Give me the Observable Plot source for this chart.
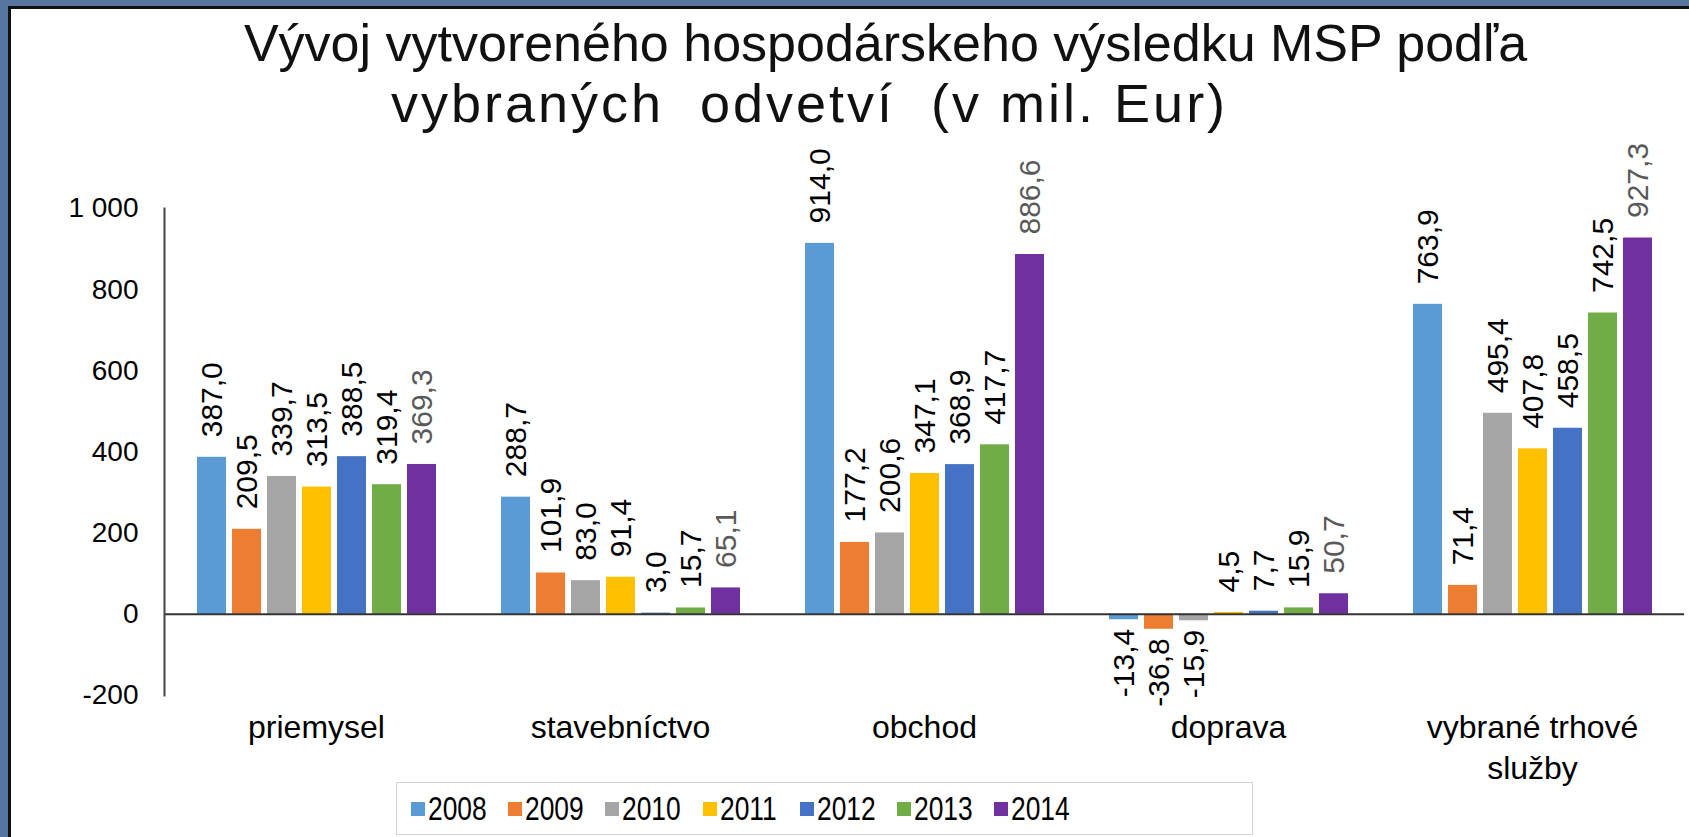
<!DOCTYPE html>
<html>
<head>
<meta charset="utf-8">
<script src="https://cdn.jsdelivr.net/npm/d3@7"></script>
<script src="https://cdn.jsdelivr.net/npm/@observablehq/plot@0.6"></script>
<style>
  html, body { margin: 0; padding: 0; }
  body { width: 1689px; height: 837px; position: relative; overflow: hidden;
         background: #57769f; font-family: "Liberation Sans", Arial, sans-serif; }
  #panel { position: absolute; left: 8px; top: 6px; width: 1681px; height: 831px;
           background: #fff; border-left: 3px solid #111; border-top: 3px solid #111; box-sizing: border-box; }
  .title { position: absolute; left: 0; width: 1689px; text-align: center;
           color: #111; white-space: pre; }
  #chart { position: absolute; left: 0; top: 120px; }
  #legend { position: absolute; left: 396px; top: 782px; width: 857px; height: 53px;
            border: 1px solid #d4d4d4; box-sizing: border-box; display: flex; align-items: center;
            padding-left: 14px; background: #fff; }
  .item { width: 97.2px; display: flex; align-items: center; flex: none; }
  .sw { width: 14px; height: 14px; margin-right: 3px; flex: none; }
  .lt { font-family: "Liberation Sans", Arial, sans-serif; display: inline-block;
        font-size: 33px; color: #000; line-height: 33px; transform: scaleX(0.8); transform-origin: left center; }
</style>
</head>
<body>
<div id="panel"></div>
<div class="title" id="t1" style="top:17px; font-size:52px; line-height:52px; transform: translateX(41px);"></div>
<div class="title" id="t2" style="top:76px; font-size:54px; line-height:54px; transform: translateX(-35px); letter-spacing: 3px;"></div>
<div id="chart"></div>
<div id="legend"></div>
<script>
const titleLines = ["Vývoj vytvoreného hospodárskeho výsledku MSP podľa", "vybraných  odvetví  (v mil. Eur)"];
const categories = ["priemysel", "stavebníctvo", "obchod", "doprava", "vybrané trhové služby"];
const categoryLabels = ["priemysel", "stavebníctvo", "obchod", "doprava", "vybrané trhové\nslužby"];
const years = ["2008", "2009", "2010", "2011", "2012", "2013", "2014"];
const colors = ["#5B9BD5", "#ED7D31", "#A5A5A5", "#FFC000", "#4472C4", "#70AD47", "#7030A0"];
const labelColors = ["#000", "#000", "#000", "#000", "#000", "#000", "#595959"];
const v2008 = [387.0, 288.7, 914.0, -13.4, 763.9];
const v2009 = [209.5, 101.9, 177.2, -36.8, 71.4];
const v2010 = [339.7, 83.0, 200.6, -15.9, 495.4];
const v2011 = [313.5, 91.4, 347.1, 4.5, 407.8];
const v2012 = [388.5, 3.0, 368.9, 7.7, 458.5];
const v2013 = [319.4, 15.7, 417.7, 15.9, 742.5];
const v2014 = [369.3, 65.1, 886.6, 50.7, 927.3];
const yTicks = [-200, 0, 200, 400, 600, 800, 1000];

document.getElementById("t1").textContent = titleLines[0];
document.getElementById("t2").textContent = titleLines[1];

const series = [v2008, v2009, v2010, v2011, v2012, v2013, v2014];
const data = [];
years.forEach((yr, j) => categories.forEach((c, i) => data.push({cat: c, year: yr, value: series[j][i], lc: labelColors[j]})));
const fmt = d => d.toFixed(1).replace(".", ",");
const pos = data.filter(d => d.value >= 0);
const neg = data.filter(d => d.value < 0);

const chart = Plot.plot({
  width: 1689, height: 665,
  marginTop: 88, marginBottom: 90, marginLeft: 164, marginRight: 5,
  style: {background: "transparent", color: "#000", overflow: "visible", fontFamily: "'Liberation Sans', Arial, sans-serif"},
  fx: {domain: categories, paddingInner: 0, paddingOuter: 0, label: null, axis: null},
  x: {domain: years, paddingInner: 0.18, paddingOuter: 0.87, axis: null},
  y: {domain: [-200, 1000], axis: null},
  color: {domain: years, range: colors},
  marks: [
    Plot.barY(data, {fx: "cat", x: "year", y: "value", fill: "year"}),
    Plot.ruleY([0], {stroke: "#333", strokeWidth: 2}),
    Plot.frame({anchor: "left", stroke: "#444", strokeWidth: 2, facetAnchor: "left"}),
    Plot.axisY({ticks: yTicks, tickSize: 0, tickPadding: 26, fontSize: 28, fill: "#000",
                tickFormat: d => d === 1000 ? "1 000" : String(d), label: null}),
    Plot.axisFx({anchor: "bottom", tickSize: 0, tickPadding: 14, fontSize: 32, lineHeight: 1.27, fill: "#000",
                 tickFormat: d => categoryLabels[categories.indexOf(d)], label: null}),
    Plot.text(pos, {fx: "cat", x: "year", y: "value", text: d => fmt(d.value), rotate: -90,
                    textAnchor: "start", dy: -20, fontSize: 30, fill: "lc"}),
    Plot.text(neg, {fx: "cat", x: "year", y: "value", text: d => fmt(d.value), rotate: -90,
                    textAnchor: "end", dy: 9, fontSize: 30, fill: "lc"})
  ]
});
document.getElementById("chart").appendChild(chart);

const legend = document.getElementById("legend");
years.forEach((yr, j) => {
  const it = document.createElement("div"); it.className = "item";
  const sw = document.createElement("div"); sw.className = "sw"; sw.style.background = colors[j];
  const t = document.createElement("span"); t.className = "lt"; t.textContent = yr;
  it.appendChild(sw); it.appendChild(t); legend.appendChild(it);
});
</script>
</body>
</html>
